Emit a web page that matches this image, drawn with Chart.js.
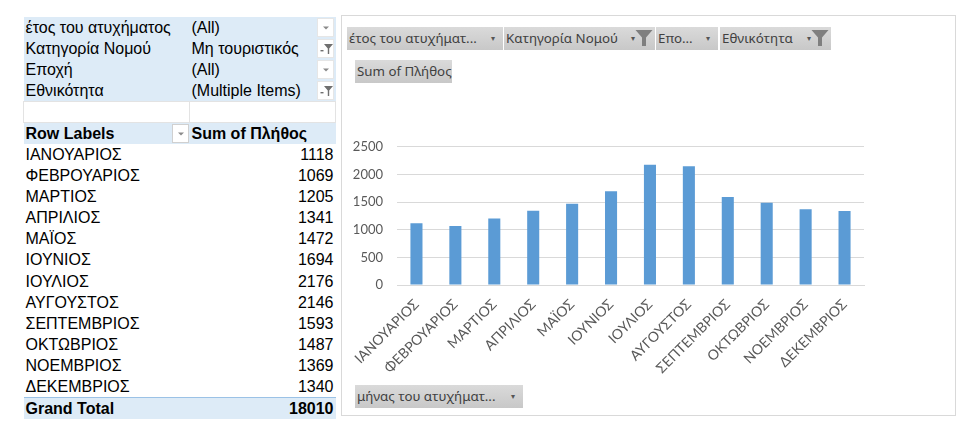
<!DOCTYPE html>
<html>
<head>
<meta charset="utf-8">
<script src="https://cdn.jsdelivr.net/npm/chart.js@4.4.0/dist/chart.umd.min.js"></script>
<style>
  html, body { margin: 0; padding: 0; background: #fff; }
  body { width: 973px; height: 432px; position: relative; overflow: hidden; }

  /* pivot table */
  #pivot { position: absolute; left: 23px; top: 17px; width: 313px; border-collapse: collapse;
           font-family: "Liberation Sans", Arial, sans-serif; font-size: 16px; color: #000; }
  #pivot td { height: 21.1px; padding: 0 2px; white-space: nowrap; line-height: 21px; }
  #pivot td.a { width: 161px; position: relative; }
  #pivot td.b { position: relative; }
  #pivot tr.flt td { background: #ddebf7; }
  #pivot tr.blank td { border: 1px solid #e3e3e3; height: 19.5px; }
  #pivot tr.head td { background: #ddebf7; font-weight: bold; }
  #pivot tr.total td { background: #ddebf7; font-weight: bold; border-top: 1px solid #9bc2e6; }
  #pivot td.num { text-align: right; }
  .dd { position: absolute; right: 2px; top: 1px; width: 17px; height: 19px; background: #fff;
        border: 1px solid #e6e6e6; box-sizing: border-box; }
  .dd svg { position: absolute; left: 0; top: 0; }
  #pivot tr.head .dd { right: 1px; border-color: #d0d0d0; }

  /* chart frame */
  #frame { position: absolute; left: 341px; top: 15px; width: 613px; height: 399px;
           border: 1px solid #d9d9d9; background: #fff; }
  .btn { position: absolute; height: 23px; line-height: 22px; box-sizing: border-box;
         background: linear-gradient(#dadada, #c8c8c8); color: #404040;
         font-family: "Noto Sans", "Open Sans", sans-serif; font-size: 13.3px; padding-left: 2px;
         white-space: nowrap; overflow: hidden; }
  .btn .arr { position: absolute; top: 0; font-size: 8px; color: #555; }
  .btn .fun { position: absolute; right: 2px; top: 2px; width: 18px; height: 18px; }
  #chartBox { position: absolute; left: 345px; top: 125px; width: 526px; height: 250px; }
</style>
</head>
<body>

<table id="pivot"></table>

<div id="frame"></div>
<div id="buttons"></div>

<div id="chartBox"><canvas id="monthChart"></canvas></div>

<script>
// Pivot filters
const filterFields = ['έτος του ατυχήματος', 'Κατηγορία Νομού', 'Εποχή', 'Εθνικότητα'];
const filterValues = ['(All)', 'Μη τουριστικός', '(All)', '(Multiple Items)'];
const filterActive = [false, true, false, true];

// Rows / values
const months = ['ΙΑΝΟΥΑΡΙΟΣ', 'ΦΕΒΡΟΥΑΡΙΟΣ', 'ΜΑΡΤΙΟΣ', 'ΑΠΡΙΛΙΟΣ', 'ΜΑΪΟΣ', 'ΙΟΥΝΙΟΣ',
                'ΙΟΥΛΙΟΣ', 'ΑΥΓΟΥΣΤΟΣ', 'ΣΕΠΤΕΜΒΡΙΟΣ', 'ΟΚΤΩΒΡΙΟΣ', 'ΝΟΕΜΒΡΙΟΣ', 'ΔΕΚΕΜΒΡΙΟΣ'];
const sumPlithos = [1118, 1069, 1205, 1341, 1472, 1694, 2176, 2146, 1593, 1487, 1369, 1340];
const yTicks = [0, 500, 1000, 1500, 2000, 2500];

// Chart field buttons
const chartFilterLabels = ['έτος του ατυχήματ...', 'Κατηγορία Νομού', 'Επο...', 'Εθνικότητα'];
const valueLabel = 'Sum of Πλήθος';
const axisFieldLabel = 'μήνας του ατυχήματ...';


// small icons
var arrowSvg = '<svg width="16" height="18"><path d="M5 7.5 L11 7.5 L8 10.5 Z" fill="#8a8a8a"/></svg>';
var funnelSvg = '<svg width="16" height="18"><path d="M6 4 L15 4 L11.2 8.5 L11.2 14 L9.8 14 L9.8 8.5 Z" fill="#6f6f6f"/><rect x="2.5" y="10" width="3" height="1.4" fill="#6f6f6f"/></svg>';
var bigFunnel = '<svg width="18" height="18" viewBox="0 0 18 18"><path d="M0.5 1 L17.5 1 L11 8.5 L11 17 L7 17 L7 8.5 Z" fill="#7f7f7f"/></svg>';


// Pivot table
function buildPivot() {
    var html = '';
    filterFields.forEach(function (f, i) {
        html += '<tr class="flt"><td class="a">' + f + '</td><td class="b">' + filterValues[i] +
                '<span class="dd">' + (filterActive[i] ? funnelSvg : arrowSvg) + '</span></td></tr>';
    });
    html += '<tr class="blank"><td class="a"></td><td class="b"></td></tr>';
    html += '<tr class="head"><td class="a">Row Labels<span class="dd">' + arrowSvg + '</span></td>' +
            '<td class="b">' + valueLabel + '</td></tr>';
    months.forEach(function (m, i) {
        html += '<tr><td class="a">' + m + '</td><td class="b num">' + sumPlithos[i] + '</td></tr>';
    });
    var total = sumPlithos.reduce(function (s, v) { return s + v; }, 0);
    html += '<tr class="total"><td class="a">Grand Total</td><td class="b num">' + total + '</td></tr>';
    document.getElementById('pivot').innerHTML = html;
}
buildPivot();


// Chart buttons
function addBtn(text, left, top, width, icon) {
    var b = document.createElement('div');
    b.className = 'btn';
    b.style.left = left + 'px';
    b.style.top = top + 'px';
    b.style.width = width + 'px';
    var inner = '<span>' + text + '</span>';
    if (icon === 'arrow') {
        inner += '<span class="arr" style="right:8px">&#9662;</span>';
    } else if (icon === 'funnel') {
        inner += '<span class="arr" style="right:20px">&#9662;</span>';
        inner += '<span class="fun">' + bigFunnel + '</span>';
    }
    b.innerHTML = inner;
    document.getElementById('buttons').appendChild(b);
}
addBtn(chartFilterLabels[0], 347, 27, 156, 'arrow');
addBtn(chartFilterLabels[1], 504, 27, 151, 'funnel');
addBtn(chartFilterLabels[2], 656, 27, 62, 'arrow');
addBtn(chartFilterLabels[3], 720, 27, 111, 'funnel');
addBtn(valueLabel, 355, 60, 97, null);
addBtn(axisFieldLabel, 355, 385, 168, 'arrow');


// Column chart
const ctx = document.getElementById('monthChart').getContext('2d');
new Chart(ctx, {
    type: 'bar',
    data: {
        labels: months,
        datasets: [{
            label: valueLabel,
            data: sumPlithos,
            backgroundColor: '#5b9bd5',
            barPercentage: 0.31,
            categoryPercentage: 1.0
        }]
    },
    options: {
        responsive: true,
        maintainAspectRatio: false,
        animation: false,
        layout: { padding: { top: 0, right: 7, bottom: 0, left: 0 } },
        plugins: {
            legend: { display: false },
            tooltip: { enabled: false }
        },
        scales: {
            x: {
                grid: { display: false },
                border: { color: '#d9d9d9' },
                afterFit: function (scale) { scale.height = 90; },
                ticks: {
                    autoSkip: false,
                    minRotation: 45,
                    maxRotation: 45,
                    color: '#595959',
                    font: { family: 'Lato', size: 14 }
                }
            },
            y: {
                min: yTicks[0],
                max: yTicks[yTicks.length - 1],
                afterFit: function (scale) { scale.width = 52; },
                afterBuildTicks: function (scale) {
                    scale.ticks = yTicks.map(function (v) { return { value: v }; });
                },
                grid: { color: '#d9d9d9', drawTicks: false },
                border: { display: false },
                ticks: {
                    padding: 14,
                    color: '#595959',
                    font: { family: 'Lato', size: 13 },
                    callback: function (v) { return String(v); }
                }
            }
        }
    }
});
</script>
</body>
</html>
